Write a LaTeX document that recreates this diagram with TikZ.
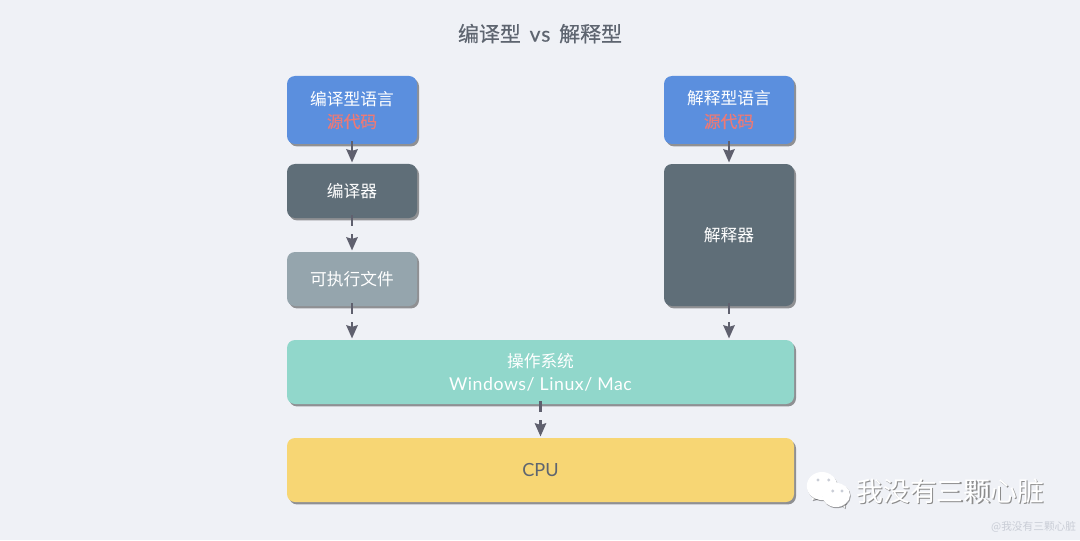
\documentclass[tikz,border=0pt]{standalone}
\usepackage{fontspec}
\usepackage{xcolor}
\usetikzlibrary{
    arrows.meta,
    shadows
}
\setmainfont{Noto Sans CJK SC}
\newfontfamily\latinfont{Lato}
\newfontfamily\redfont[FakeBold=0.3]{Noto Sans CJK SC}
\definecolor{bgcol}{HTML}{EFF1F6}
\definecolor{titlecol}{HTML}{5E6570}
\definecolor{arrowcol}{HTML}{5F606E}
\definecolor{bluecol}{HTML}{5B8FDE}
\definecolor{darkcol}{HTML}{5F6E78}
\definecolor{greycol}{HTML}{95A5AD}
\definecolor{tealcol}{HTML}{91D7CB}
\definecolor{yellowcol}{HTML}{F7D674}
\definecolor{redcol}{HTML}{EC7A76}
\definecolor{markcol}{HTML}{C9CDD6}
\tikzset{
    block/.style={rectangle, rounded corners=0.2cm, align=center, inner sep=0cm, text=white, font=\fontsize{11.9pt}{16.2pt}\selectfont,
        drop shadow={shadow xshift=0.05cm, shadow yshift=-0.06cm, fill=black, opacity=0.4}},
    flow/.style={-{Stealth[length=0.33cm, width=0.28cm, inset=0.04cm]}, draw=arrowcol, line width=0.07cm, dash pattern=on 0.28cm off 0.2cm, shorten <=-0.08cm, shorten >=0.03cm},
    bubble/.style={fill=white, draw=none, drop shadow={shadow xshift=0.02cm, shadow yshift=-0.03cm, fill=black, opacity=0.35}}
}
\begin{document}
\begin{tikzpicture}
    \useasboundingbox (0, 0) rectangle (27, 13.5);
    \fill[bgcol] (0, 0) rectangle (27, 13.5);

    \node[text=titlecol, font=\fontsize{14.9pt}{18pt}\selectfont] (title) at (13.5, 12.66) {\addfontfeature{FakeBold=0.4}编译型\hspace{0.22cm}{\latinfont\addfontfeature{FakeBold=0.4,LetterSpace=5}vs}\hspace{0.22cm}解释型};

    \node[block, fill=bluecol, minimum width=3.25cm, minimum height=1.7cm] (compiled src) at (8.8, 10.75) {编译型语言\\\textcolor{redcol}{\redfont 源代码}};
    \node[block, fill=darkcol, minimum width=3.25cm, minimum height=1.35cm] (compiler) at (8.8, 8.725) {编译器};
    \node[block, fill=greycol, minimum width=3.25cm, minimum height=1.35cm] (binary) at (8.8, 6.525) {可执行文件};

    \node[block, fill=bluecol, minimum width=3.25cm, minimum height=1.7cm] (interp src) at (18.225, 10.75) {解释型语言\\\textcolor{redcol}{\redfont 源代码}};
    \node[block, fill=darkcol, minimum width=3.25cm, minimum height=3.55cm] (interpreter) at (18.225, 7.625) {解释器};

    \node[block, fill=tealcol, minimum width=12.675cm, minimum height=1.6cm] (os) at (13.5125, 4.2) {操作系统\\{\latinfont\fontsize{12.6pt}{16.2pt}\selectfont\addfontfeature{LetterSpace=3}Windows/ Linux/ Mac}};
    \node[block, fill=yellowcol, text=titlecol, minimum width=12.675cm, minimum height=1.6cm] (cpu) at (13.5125, 1.75) {\latinfont\fontsize{12.9pt}{16.2pt}\selectfont CPU};

    \draw[flow] (compiled src.south)--(compiler.north);
    \draw[flow] (compiler.south)--(binary.north);
    \draw[flow] (binary.south)--(binary.south |- os.north);
    \draw[flow] (interp src.south)--(interpreter.north);
    \draw[flow] (interpreter.south)--(interpreter.south |- os.north);
    \draw[flow] (os.south)--(cpu.north);

    % account mark
    \fill[bubble] (20.3, 1.0)--(20.33, 1.3)--(20.65, 1.1)--cycle;
    \fill[bubble] (20.55, 1.35) ellipse (0.38cm and 0.35cm);
    \fill[bubble] (21.12, 0.8)--(20.95, 0.95)--(21.15, 1.0)--cycle;
    \fill[bubble] (20.9, 1.125) ellipse (0.35cm and 0.3cm);
    \foreach \px/\py in {20.45/1.5, 20.72/1.5, 20.82/1.225, 21.05/1.225}
        \fill[markcol] (\px, \py) circle (0.04cm);
    \node[text=black!45, font=\fontsize{19.1pt}{22pt}\selectfont] (account shade) at (23.79, 1.2) {我没有三颗心脏};
    \node[text=white, font=\fontsize{19.1pt}{22pt}\selectfont] (account) at (23.76, 1.22) {我没有三颗心脏};
    \node[text=markcol, font=\fontsize{7.6pt}{9pt}\selectfont] (credit) at (25.84, 0.32) {@我没有三颗心脏};
\end{tikzpicture}
\end{document}
